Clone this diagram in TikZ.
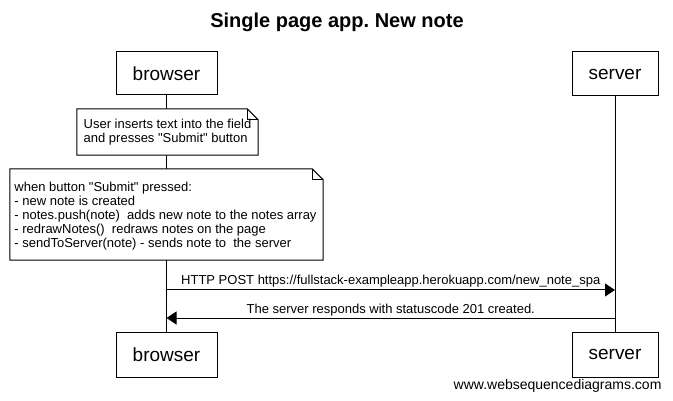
\documentclass[tikz,border=0pt]{standalone}
\usepackage{fontspec}
\setmainfont{Liberation Sans}
\usetikzlibrary{arrows.meta}
\frenchspacing
\tikzset{
  actor/.style={draw, line width=1pt, fill=white, inner sep=0pt,
    font=\fontsize{19}{22}\selectfont},
  notebox/.style={inner sep=0pt, align=left,
    font=\fontsize{13}{14}\selectfont},
  msg/.style={line width=1pt, -{Triangle[length=10pt,width=13pt]}},
  msglabel/.style={font=\fontsize{13}{15}\selectfont, anchor=base}
}
% note outline with folded corner round a node
\newcommand\notefold[1]{%
  \draw[line width=1pt, fill=white]
    (#1.north west) -- ([xshift=-11pt]#1.north east)
    -- ([yshift=-11pt]#1.north east) -- (#1.south east)
    -- (#1.south west) -- cycle;
  \draw[line width=1pt]
    ([xshift=-11pt]#1.north east) -- ([xshift=-11pt,yshift=-11pt]#1.north east)
    -- ([yshift=-11pt]#1.north east);
}
\newcommand\qq{\textquotedbl}
\begin{document}
\begin{tikzpicture}[x=1pt, y=-1pt]
  \useasboundingbox (0,0) rectangle (673,401);
  \node[font=\bfseries\fontsize{20}{24}\selectfont] (title) at (337,22) {Single page app. New note};

  \node[actor, minimum width=101pt, minimum height=43pt] (bt) at (166.5,73.5) {browser};
  \node[actor, minimum width=86pt, minimum height=44pt] (st) at (615,74) {server};
  \node[actor, minimum width=101pt, minimum height=45pt] (bb) at (166.5,354.5) {browser};
  \node[actor, minimum width=86pt, minimum height=45pt] (sb) at (615,354.5) {server};

  % lifelines
  \draw[line width=1pt] (bt.south) -- (bb.north);
  \draw[line width=1pt] (st.south) -- (sb.north);

  % notes
  \node[minimum width=181pt, minimum height=46pt] (n1) at (167.5,132) {};
  \node[minimum width=313pt, minimum height=91pt] (n2) at (166.5,214.5) {};
  \notefold{n1}
  \notefold{n2}
  \node[notebox] (t1) at (n1) {User inserts text into the field\\and presses \qq Submit\qq{} button};
  \node[notebox, xshift=-1pt, yshift=-1.5pt] (t2) at (n2) {when button \qq Submit\qq{} pressed:\\- new note is created\\- notes.push(note)\ \ adds new note to the notes array\\- redrawNotes()\ \ redraws notes on the page\\- sendToServer(note) - sends note to\ \ the server};

  % messages
  \coordinate (b1) at (bt.south |- 0,290);
  \coordinate (s1) at (st.south |- 0,290);
  \coordinate (b2) at (bt.south |- 0,318);
  \coordinate (s2) at (st.south |- 0,318);
  \draw[msg] (b1) -- (s1) node[msglabel, midway, yshift=5pt] (m1) {HTTP POST https://fullstack-exampleapp.herokuapp.com/new\_note\_spa};
  \draw[msg] (s2) -- (b2) node[msglabel, midway, yshift=5pt] (m2) {The server responds with statuscode 201 created.};

  \node[font=\fontsize{14}{16}\selectfont, anchor=east] (wsd) at (665,386) {www.websequencediagrams.com};
\end{tikzpicture}
\end{document}
